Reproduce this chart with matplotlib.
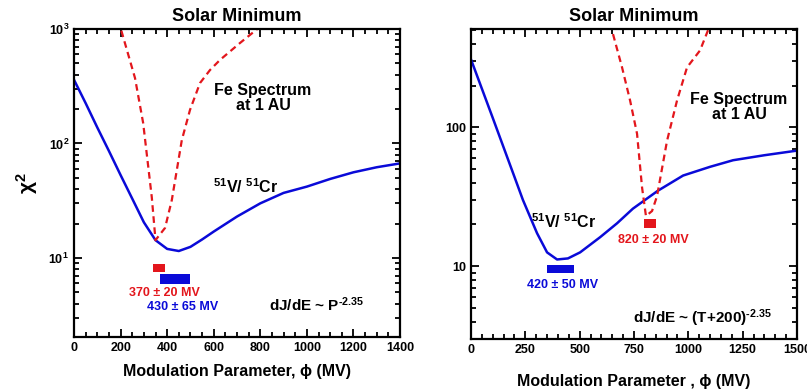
import matplotlib
matplotlib.use('Agg')
import matplotlib.pyplot as plt
from matplotlib.ticker import MultipleLocator, LogLocator, NullFormatter, FixedLocator

plt.rcParams['font.family'] = ['Liberation Sans', 'DejaVu Sans']
plt.rcParams['font.weight'] = 'bold'
plt.rcParams['mathtext.fontset'] = 'custom'
plt.rcParams['mathtext.rm'] = 'Liberation Sans:bold'
plt.rcParams['mathtext.it'] = 'Liberation Sans:bold'
plt.rcParams['mathtext.bf'] = 'Liberation Sans:bold'
plt.rcParams['mathtext.default'] = 'rm'

# left panel: rigidity power law
left_blue_x = [0, 50, 100, 150, 200, 250, 300, 350, 400, 450, 500, 550, 600, 700, 800, 900, 1000, 1100, 1200, 1300, 1400]
left_blue_y = [360, 225, 138, 86, 53, 33, 20.5, 14.3, 12, 11.5, 12.5, 14.5, 17, 23, 30, 37, 42, 49, 56, 62, 67]
left_red_x = [190, 262, 297, 334, 350, 361, 391, 420, 463, 498, 541, 584, 627, 713, 800]
left_red_y = [1200, 373, 151, 34, 14.3, 15.3, 18.3, 32, 107, 196, 337, 438, 537, 755, 1050]

# right panel: (T+200) power law
right_blue_x = [0, 100, 200, 239, 304, 350, 396, 446, 502, 594, 672, 745, 860, 976, 1100, 1206, 1350, 1500]
right_blue_y = [308, 117, 44, 30, 17.3, 12.6, 11.2, 11.4, 12.6, 16.2, 20.4, 26, 35, 45, 52, 58, 63, 68]
right_red_x = [640, 695, 732, 764, 787, 805, 833, 856, 902, 948, 994, 1054, 1095]
right_red_y = [560, 270, 156, 90, 37, 23, 25, 32, 80, 156, 270, 358, 520]

# best-fit bars: (center, half width, y center, y height)
left_red_bar = (365, 25, 8.2, 1.3)
left_blue_bar = (435, 65, 6.55, 1.35)
right_red_bar = (823, 27, 20.3, 3.0)
right_blue_bar = (412, 62, 9.6, 1.4)

blue = '#0a0ad8'
red = '#e3161c'

fig = plt.figure(figsize=(8.07, 3.89), dpi=100)
ax1 = fig.add_axes([74/807, 52/389, 326/807, 308/389])
ax2 = fig.add_axes([471/807, 50/389, 326/807, 310/389])


def style(ax):
    for s in ax.spines.values():
        s.set_linewidth(1.6)
    ax.tick_params(which='both', direction='in', top=True, right=True, width=1.3, labelsize=9)
    ax.tick_params(which='major', length=6)
    ax.tick_params(which='minor', length=3.5)
    ax.set_yscale('log')
    ax.yaxis.set_minor_locator(LogLocator(subs=range(2, 10)))
    ax.yaxis.set_minor_formatter(NullFormatter())
    ax.set_title('Solar Minimum', fontsize=13, fontweight='bold', pad=6)


def bar(ax, b, color):
    c, hw, y, h = b
    ax.barh(y, 2 * hw, left=c - hw, height=h, color=color, edgecolor='none')


style(ax1)
ax1.plot(left_blue_x, left_blue_y, color=blue, lw=1.8)
ax1.plot(left_red_x, left_red_y, color=red, lw=1.6, ls=(0, (3, 2)))
bar(ax1, left_red_bar, red)
bar(ax1, left_blue_bar, blue)
ax1.set_xlim(0, 1400)
ax1.set_ylim(2.04, 1000)
ax1.xaxis.set_major_locator(MultipleLocator(200))
ax1.xaxis.set_minor_locator(MultipleLocator(50))
ax1.yaxis.set_major_locator(FixedLocator([10, 100, 1000]))
ax1.set_yticklabels(['10$^1$', '10$^2$', '10$^3$'])
ax1.set_xlabel('Modulation Parameter, ϕ (MV)', fontsize=11.5, fontweight='bold', labelpad=7)
ax1.set_ylabel('χ$^2$', fontsize=15, fontweight='bold', labelpad=6)
ax1.text(812, 250, 'Fe Spectrum\nat 1 AU', ha='center', va='center', fontsize=11.5, linespacing=1.0)
ax1.text(735, 42, '$^{51}$V/ $^{51}$Cr', ha='center', va='center', fontsize=11.5)
ax1.text(390, 4.95, '370 ± 20 MV', color=red, ha='center', va='center', fontsize=9)
ax1.text(467, 3.75, '430 ± 65 MV', color=blue, ha='center', va='center', fontsize=9)
ax1.text(1040, 3.9, 'dJ/dE ~ P$^{‐2.35}$', ha='center', va='center', fontsize=11)

style(ax2)
ax2.plot(right_blue_x, right_blue_y, color=blue, lw=1.8)
ax2.plot(right_red_x, right_red_y, color=red, lw=1.6, ls=(0, (3, 2)))
bar(ax2, right_red_bar, red)
bar(ax2, right_blue_bar, blue)
ax2.set_xlim(0, 1500)
ax2.set_ylim(3.0, 510)
ax2.xaxis.set_major_locator(MultipleLocator(250))
ax2.xaxis.set_minor_locator(MultipleLocator(50))
ax2.yaxis.set_major_locator(FixedLocator([10, 100]))
ax2.set_yticklabels(['10', '100'])
ax2.set_xlabel('Modulation Parameter , ϕ (MV)', fontsize=11.5, fontweight='bold', labelpad=13)
ax2.text(1233, 140, 'Fe Spectrum\nat 1 AU', ha='center', va='center', fontsize=11.5, linespacing=1.0)
ax2.text(428, 21, '$^{51}$V/ $^{51}$Cr', ha='center', va='center', fontsize=11.5)
ax2.text(838, 15.5, '820 ± 20 MV', color=red, ha='center', va='center', fontsize=9)
ax2.text(419, 7.3, '420 ± 50 MV', color=blue, ha='center', va='center', fontsize=9)
ax2.text(1067, 4.2, 'dJ/dE ~ (T+200)$^{‐2.35}$', ha='center', va='center', fontsize=11)

fig.savefig('out.png', dpi=100)
